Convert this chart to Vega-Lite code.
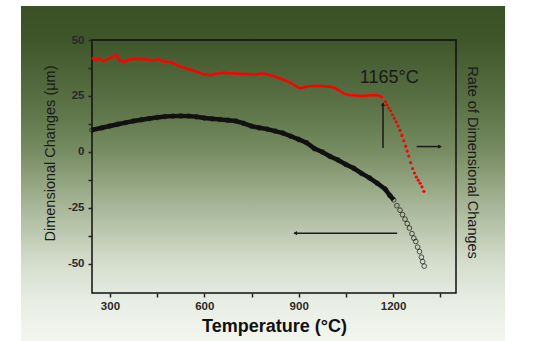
{
  "$schema": "https://vega.github.io/schema/vega-lite/v6.json",
  "width": 364,
  "height": 253,
  "autosize": "none",
  "padding": {"left": 92, "top": 40, "right": 80, "bottom": 48},
  "background": "white",
  "config": {
    "font": "Liberation Sans",
    "view": {"stroke": null}
  },
  "datasets": {
    "dim": [
      {"T": 243, "v": 9.8}, {"T": 275, "v": 10.8}, {"T": 300, "v": 11.6}, {"T": 325, "v": 12.4},
      {"T": 350, "v": 13.1}, {"T": 375, "v": 13.8}, {"T": 400, "v": 14.4}, {"T": 425, "v": 14.9},
      {"T": 450, "v": 15.4}, {"T": 475, "v": 15.8}, {"T": 500, "v": 16.0}, {"T": 525, "v": 16.1},
      {"T": 550, "v": 16.0}, {"T": 575, "v": 15.7}, {"T": 600, "v": 15.2}, {"T": 625, "v": 14.8},
      {"T": 650, "v": 14.5}, {"T": 675, "v": 14.2}, {"T": 700, "v": 13.8}, {"T": 725, "v": 12.8},
      {"T": 750, "v": 11.5}, {"T": 775, "v": 10.8}, {"T": 800, "v": 10.2}, {"T": 825, "v": 9.3},
      {"T": 850, "v": 8.4}, {"T": 875, "v": 7.0}, {"T": 900, "v": 5.6}, {"T": 925, "v": 4.1},
      {"T": 950, "v": 1.5}, {"T": 975, "v": 0.0}, {"T": 1000, "v": -2.0}, {"T": 1025, "v": -3.6},
      {"T": 1050, "v": -5.6}, {"T": 1075, "v": -7.3}, {"T": 1100, "v": -9.6}, {"T": 1125, "v": -11.6},
      {"T": 1150, "v": -14.0}, {"T": 1175, "v": -16.6}, {"T": 1190, "v": -19.5}, {"T": 1202, "v": -21.4},
      {"T": 1212, "v": -24.0}, {"T": 1222, "v": -26.0}, {"T": 1230, "v": -28.0}, {"T": 1238, "v": -30.0},
      {"T": 1245, "v": -32.0}, {"T": 1252, "v": -34.0}, {"T": 1260, "v": -36.5}, {"T": 1266, "v": -38.5},
      {"T": 1272, "v": -40.0}, {"T": 1278, "v": -42.5}, {"T": 1284, "v": -44.5}, {"T": 1290, "v": -47.0},
      {"T": 1294, "v": -49.0}, {"T": 1299, "v": -51.0}
    ],
    "rate": [
      {"T": 243, "r": 42.0, "seg": "a"}, {"T": 255, "r": 41.0, "seg": "a"}, {"T": 265, "r": 41.8, "seg": "a"},
      {"T": 280, "r": 40.5, "seg": "a"}, {"T": 295, "r": 41.6, "seg": "a"}, {"T": 310, "r": 42.5, "seg": "a"},
      {"T": 320, "r": 43.3, "seg": "a"}, {"T": 330, "r": 41.0, "seg": "a"}, {"T": 345, "r": 40.2, "seg": "a"},
      {"T": 360, "r": 41.2, "seg": "a"}, {"T": 380, "r": 41.6, "seg": "a"}, {"T": 400, "r": 41.4, "seg": "a"},
      {"T": 420, "r": 41.3, "seg": "a"}, {"T": 440, "r": 40.8, "seg": "a"}, {"T": 455, "r": 41.5, "seg": "a"},
      {"T": 470, "r": 40.4, "seg": "a"}, {"T": 490, "r": 40.2, "seg": "a"}, {"T": 505, "r": 39.4, "seg": "a"},
      {"T": 520, "r": 38.3, "seg": "a"}, {"T": 540, "r": 37.4, "seg": "a"}, {"T": 560, "r": 36.6, "seg": "a"},
      {"T": 580, "r": 35.6, "seg": "a"}, {"T": 600, "r": 34.6, "seg": "a"}, {"T": 620, "r": 34.4, "seg": "a"},
      {"T": 640, "r": 35.0, "seg": "a"}, {"T": 660, "r": 35.4, "seg": "a"}, {"T": 680, "r": 35.2, "seg": "a"},
      {"T": 700, "r": 35.0, "seg": "a"}, {"T": 720, "r": 34.8, "seg": "a"}, {"T": 740, "r": 34.8, "seg": "a"},
      {"T": 760, "r": 34.6, "seg": "a"}, {"T": 780, "r": 35.0, "seg": "a"}, {"T": 800, "r": 34.7, "seg": "a"},
      {"T": 820, "r": 33.8, "seg": "a"}, {"T": 840, "r": 32.9, "seg": "a"}, {"T": 860, "r": 31.8, "seg": "a"},
      {"T": 880, "r": 30.4, "seg": "a"}, {"T": 895, "r": 29.0, "seg": "a"}, {"T": 905, "r": 28.4, "seg": "a"},
      {"T": 920, "r": 29.0, "seg": "a"}, {"T": 940, "r": 29.4, "seg": "a"}, {"T": 960, "r": 29.6, "seg": "a"},
      {"T": 980, "r": 29.3, "seg": "a"}, {"T": 1000, "r": 29.1, "seg": "a"}, {"T": 1015, "r": 28.6, "seg": "a"},
      {"T": 1030, "r": 27.3, "seg": "a"}, {"T": 1045, "r": 25.9, "seg": "a"}, {"T": 1060, "r": 25.4, "seg": "a"},
      {"T": 1080, "r": 25.2, "seg": "a"}, {"T": 1100, "r": 25.0, "seg": "a"}, {"T": 1120, "r": 25.2, "seg": "a"},
      {"T": 1140, "r": 25.4, "seg": "a"}, {"T": 1150, "r": 25.3, "seg": "a"}, {"T": 1160, "r": 24.8, "seg": "a"},
      {"T": 1168, "r": 24.2, "seg": "a"},
      {"T": 1175, "r": 22.5, "seg": "b"}, {"T": 1180, "r": 21.0, "seg": "b"}, {"T": 1186, "r": 19.6, "seg": "b"},
      {"T": 1192, "r": 18.4, "seg": "b"}, {"T": 1198, "r": 16.6, "seg": "b"}, {"T": 1204, "r": 15.0, "seg": "b"},
      {"T": 1210, "r": 13.4, "seg": "b"}, {"T": 1216, "r": 11.6, "seg": "b"}, {"T": 1222, "r": 9.6, "seg": "b"},
      {"T": 1228, "r": 7.4, "seg": "b"}, {"T": 1234, "r": 5.0, "seg": "b"}, {"T": 1240, "r": 2.6, "seg": "b"},
      {"T": 1245, "r": 0.4, "seg": "b"}, {"T": 1250, "r": -1.8, "seg": "b"}, {"T": 1256, "r": -4.8, "seg": "b"},
      {"T": 1262, "r": -7.4, "seg": "b"}, {"T": 1268, "r": -9.4, "seg": "b"}, {"T": 1274, "r": -11.2, "seg": "b"},
      {"T": 1280, "r": -12.6, "seg": "b"}, {"T": 1286, "r": -14.0, "seg": "b"}, {"T": 1292, "r": -15.6, "seg": "b"},
      {"T": 1298, "r": -17.6, "seg": "b"}
    ],
    "arrows": [
      {"dir": "up", "T": 1168, "T2": 1168, "v": 1.8, "v2": 21.8, "hT": 1168, "hv": 21.3},
      {"dir": "right", "T": 1275, "T2": 1352, "v": 2.4, "v2": 2.4, "hT": 1349, "hv": 2.4},
      {"dir": "left", "T": 886, "T2": 1213, "v": -36.3, "v2": -36.3, "hT": 889, "hv": -36.3}
    ],
    "notes": [{"label": "1165°C", "T": 1188, "v": 32.9}]
  },
  "layer": [
    {
      "data": {"values": [{"panel": "background"}]},
      "mark": {
        "type": "rect",
        "clip": false,
        "fill": {
          "gradient": "linear", "x1": 0, "y1": 0, "x2": 0, "y2": 1,
          "stops": [
            {"offset": 0, "color": "#3a5126"},
            {"offset": 0.1, "color": "#3e5629"},
            {"offset": 0.3, "color": "#5b7346"},
            {"offset": 0.43, "color": "#768b61"},
            {"offset": 0.58, "color": "#a2b292"},
            {"offset": 0.76, "color": "#d3dccb"},
            {"offset": 0.88, "color": "#e8ede3"},
            {"offset": 1, "color": "#f3f6f0"}
          ]
        }
      },
      "encoding": {
        "x": {"datum": 17.3, "type": "quantitative", "scale": {"domain": [243, 1400], "nice": false, "zero": false}, "axis": null},
        "x2": {"datum": 1556},
        "y": {"datum": 65.2, "type": "quantitative", "scale": {"domain": [-63, 50], "nice": false, "zero": false}, "axis": null},
        "y2": {"datum": -84.4}
      }
    },
    {
      "data": {"values": [{"panel": "frame"}]},
      "mark": {"type": "rect", "clip": false, "fill": null, "filled": false, "stroke": "#111111", "strokeWidth": 1.5},
      "encoding": {
        "x": {"datum": 243, "type": "quantitative", "scale": {"domain": [243, 1400], "nice": false, "zero": false}, "axis": null},
        "x2": {"datum": 1400},
        "y": {"datum": 50, "type": "quantitative", "scale": {"domain": [-63, 50], "nice": false, "zero": false}, "axis": null},
        "y2": {"datum": -63}
      }
    },
    {
      "data": {"name": "dim"},
      "transform": [{"filter": "datum.T <= 1205"}],
      "mark": {"type": "line", "color": "#111111", "strokeWidth": 4.5},
      "encoding": {
        "x": {
          "field": "T", "type": "quantitative",
          "scale": {"domain": [243, 1400], "nice": false, "zero": false},
          "axis": {
            "title": "Temperature (°C)", "zindex": 2, "grid": false, "domain": false,
            "values": [300, 450, 600, 750, 900, 1050, 1200, 1350],
            "labelExpr": "datum.value % 300 == 0 ? '' + datum.value : ''",
            "tickSize": 4, "tickWidth": 1.5, "tickColor": "#222222",
            "labelFontSize": 11.5, "labelFontWeight": "bold", "labelColor": "#2a2a2a", "labelPadding": 3,
            "titleFontSize": 18, "titleFontWeight": "bold", "titleColor": "#111111", "titlePadding": 6
          }
        },
        "y": {
          "field": "v", "type": "quantitative",
          "scale": {"domain": [-63, 50], "nice": false, "zero": false},
          "axis": {
            "title": "Dimensional Changes (μm)", "zindex": 2, "grid": false, "domain": false,
            "values": [50, 37.5, 25, 12.5, 0, -12.5, -25, -37.5, -50],
            "labelExpr": "datum.value % 25 == 0 ? '' + datum.value : ''",
            "tickSize": 4, "tickWidth": 1.5, "tickColor": "#222222",
            "labelFontSize": 11.5, "labelFontWeight": "bold", "labelColor": "#2a2a2a", "labelPadding": 4,
            "titleFontSize": 14.5, "titleFontWeight": "normal", "titleColor": "#1a1a1a", "titlePadding": 10, "titleY": 113
          }
        }
      }
    },
    {
      "data": {"name": "dim"},
      "mark": {"type": "point", "shape": "circle", "filled": false, "color": "#111111", "strokeWidth": 1, "size": 22},
      "encoding": {
        "x": {"field": "T", "type": "quantitative", "scale": {"domain": [243, 1400], "nice": false, "zero": false}, "axis": null},
        "y": {"field": "v", "type": "quantitative", "scale": {"domain": [-63, 50], "nice": false, "zero": false}, "axis": null}
      }
    },
    {
      "data": {"name": "arrows"},
      "mark": {"type": "rule", "color": "#1a1a1a", "strokeWidth": 1.5},
      "encoding": {
        "x": {"field": "T", "type": "quantitative", "scale": {"domain": [243, 1400], "nice": false, "zero": false}, "axis": null},
        "x2": {"field": "T2"},
        "y": {"field": "v", "type": "quantitative", "scale": {"domain": [-63, 50], "nice": false, "zero": false}, "axis": null},
        "y2": {"field": "v2"}
      }
    },
    {
      "data": {"name": "arrows"},
      "mark": {"type": "point", "filled": true, "color": "#1a1a1a", "size": 18, "opacity": 1},
      "encoding": {
        "x": {"field": "hT", "type": "quantitative", "scale": {"domain": [243, 1400], "nice": false, "zero": false}, "axis": null},
        "y": {"field": "hv", "type": "quantitative", "scale": {"domain": [-63, 50], "nice": false, "zero": false}, "axis": null},
        "shape": {"field": "dir", "type": "nominal", "scale": {"domain": ["up", "right", "left"], "range": ["triangle-up", "triangle-right", "triangle-left"]}, "legend": null}
      }
    },
    {
      "data": {"name": "notes"},
      "mark": {"type": "text", "fontSize": 18, "color": "#1a1a1a", "font": "Liberation Sans"},
      "encoding": {
        "x": {"field": "T", "type": "quantitative", "scale": {"domain": [243, 1400], "nice": false, "zero": false}, "axis": null},
        "y": {"field": "v", "type": "quantitative", "scale": {"domain": [-63, 50], "nice": false, "zero": false}, "axis": null},
        "text": {"field": "label"}
      }
    },
    {
      "data": {"name": "rate"},
      "transform": [{"filter": "datum.seg == 'a'"}],
      "mark": {"type": "line", "color": "#ff0000", "strokeWidth": 2.5},
      "encoding": {
        "x": {"field": "T", "type": "quantitative", "scale": {"domain": [243, 1400], "nice": false, "zero": false}, "axis": null},
        "y": {
          "field": "r", "type": "quantitative",
          "scale": {"domain": [-63, 50], "nice": false, "zero": false},
          "axis": {
            "orient": "right", "title": "Rate of Dimensional Changes", "zindex": 2, "grid": false,
            "labels": false, "ticks": false, "domain": false,
            "titleFontSize": 14.5, "titleFontWeight": "normal", "titleColor": "#1a1a1a", "titlePadding": 8, "titleY": 122
          }
        }
      }
    },
    {
      "data": {"name": "rate"},
      "transform": [{"filter": "datum.seg == 'b'"}],
      "mark": {"type": "point", "shape": "circle", "filled": true, "color": "#ff0000", "size": 10, "opacity": 1},
      "encoding": {
        "x": {"field": "T", "type": "quantitative", "scale": {"domain": [243, 1400], "nice": false, "zero": false}, "axis": null},
        "y": {"field": "r", "type": "quantitative", "scale": {"domain": [-63, 50], "nice": false, "zero": false}, "axis": null}
      }
    }
  ],
  "resolve": {"axis": {"x": "independent", "y": "independent"}}
}
